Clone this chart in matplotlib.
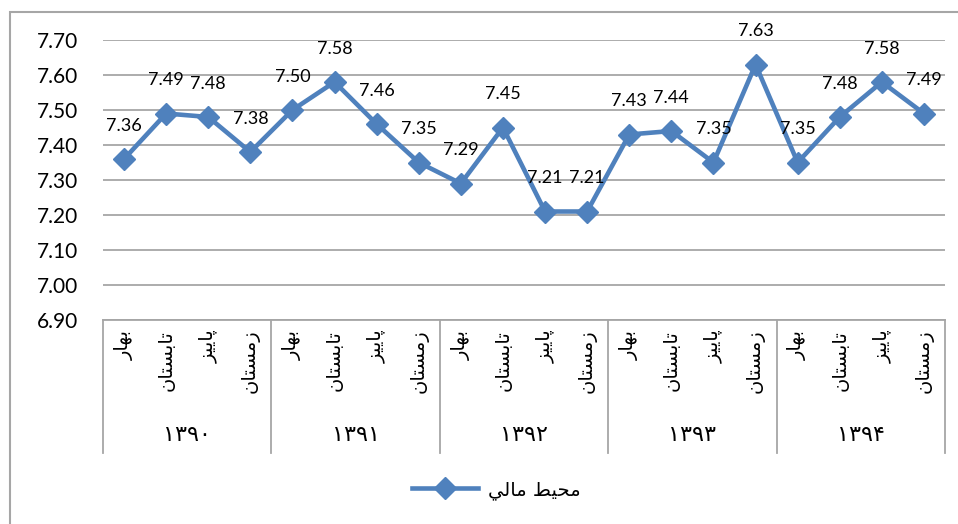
import matplotlib.pyplot as plt
from matplotlib.lines import Line2D
from matplotlib.patches import Rectangle

# data
seasons = ['بهار', 'تابستان', 'پاییز', 'زمستان']
years = ['۱۳۹۰', '۱۳۹۱', '۱۳۹۲', '۱۳۹۳', '۱۳۹۴']
values = [7.36, 7.49, 7.48, 7.38,
          7.50, 7.58, 7.46, 7.35,
          7.29, 7.45, 7.21, 7.21,
          7.43, 7.44, 7.35, 7.63,
          7.35, 7.48, 7.58, 7.49]
series_name = 'محيط مالي'
yticks = [6.90, 7.00, 7.10, 7.20, 7.30, 7.40, 7.50, 7.60, 7.70]

# matplotlib has no arabic shaping, so pick the presentation forms by hand
forms = {
    'ب': ('\uFE8F', '\uFE90', '\uFE91', '\uFE92'),
    'ه': ('\uFEE9', '\uFEEA', '\uFEEB', '\uFEEC'),
    'ا': ('\uFE8D', '\uFE8E', None, None),
    'ر': ('\uFEAD', '\uFEAE', None, None),
    'ز': ('\uFEAF', '\uFEB0', None, None),
    'ت': ('\uFE95', '\uFE96', '\uFE97', '\uFE98'),
    'س': ('\uFEB1', '\uFEB2', '\uFEB3', '\uFEB4'),
    'ن': ('\uFEE5', '\uFEE6', '\uFEE7', '\uFEE8'),
    'پ': ('\uFB56', '\uFB57', '\uFB58', '\uFB59'),
    'ی': ('\uFBFC', '\uFBFD', '\uFBFE', '\uFBFF'),
    'ي': ('\uFEF1', '\uFEF2', '\uFEF3', '\uFEF4'),
    'م': ('\uFEE1', '\uFEE2', '\uFEE3', '\uFEE4'),
    'ح': ('\uFEA1', '\uFEA2', '\uFEA3', '\uFEA4'),
    'ط': ('\uFEC1', '\uFEC2', '\uFEC3', '\uFEC4'),
    'ل': ('\uFEDD', '\uFEDE', '\uFEDF', '\uFEE0'),
}


def shape(s):
    out = []
    for i, c in enumerate(s):
        if c not in forms:
            out.append(c)
            continue
        prev = s[i - 1] if i > 0 else ''
        nxt = s[i + 1] if i < len(s) - 1 else ''
        jp = prev in forms and forms[prev][2] is not None
        jn = nxt in forms and forms[c][2] is not None
        if jp and jn:
            out.append(forms[c][3])
        elif jp:
            out.append(forms[c][1])
        elif jn:
            out.append(forms[c][2])
        else:
            out.append(forms[c][0])
    return ''.join(out)[::-1]


plt.rcParams['font.family'] = ['Lato', 'DejaVu Sans']

fig = plt.figure(figsize=(9.58, 5.24), dpi=100)
W, H = 958, 524
ax = fig.add_axes([103 / W, 1 - 320 / H, (945 - 103) / W, 280 / H])

blue = '#4F81BD'
x = list(range(1, len(values) + 1))
ax.plot(x, values, color=blue, lw=3.3, marker='D', ms=11, mec=blue, mfc=blue,
        solid_joinstyle='miter', zorder=3)

for xi, v in zip(x, values):
    ax.annotate(f'{v:.2f}', (xi, v), xytext=(0, 24), textcoords='offset points',
                ha='center', va='center', fontsize=13)

ax.set_xlim(0.5, len(values) + 0.5)
ax.set_ylim(6.9, 7.7)
ax.set_yticks(yticks)
ax.set_yticklabels([f'{t:.2f}' for t in yticks], fontsize=15)
ax.yaxis.grid(True, color='#A6A6A6', lw=1.3)
ax.set_axisbelow(True)
ax.tick_params(axis='y', length=0, pad=18)
ax.set_xticks([])
for s in ['top', 'right', 'left']:
    ax.spines[s].set_visible(False)
ax.spines['bottom'].set_color('#A6A6A6')
ax.spines['bottom'].set_linewidth(1.3)

# two level category axis
trans = ax.get_xaxis_transform()
n = len(seasons)
for k, yr in enumerate(years):
    for j, s in enumerate(seasons):
        ax.text(k * n + j + 1, -0.035, shape(s), transform=trans, rotation=90,
                ha='center', va='top', fontsize=14, family='DejaVu Sans')
    ax.text(k * n + n / 2 + 0.5, -0.41, yr, transform=trans, ha='center',
            va='center', fontsize=16, family='DejaVu Sans')
for k in range(len(years) + 1):
    ax.add_line(Line2D([k * n + 0.5] * 2, [0, -0.475], transform=trans,
                       color='#A6A6A6', lw=1.3, clip_on=False))

# legend
handle = Line2D([], [], color=blue, lw=3.3, marker='D', ms=11)
fig.legend([handle], [shape(series_name)], loc='center',
           bbox_to_anchor=(496 / W, 1 - 490 / H), frameon=False,
           prop={'family': 'DejaVu Sans', 'size': 14}, handlelength=3.4,
           handletextpad=0.5)

# chart border
fig.patches.append(Rectangle((10 / W, -0.1), 1.2, 1 - 12 / H + 0.1,
                             transform=fig.transFigure, fill=False,
                             ec='#A6A6A6', lw=1.5))

fig.savefig('out.png', dpi=100)
